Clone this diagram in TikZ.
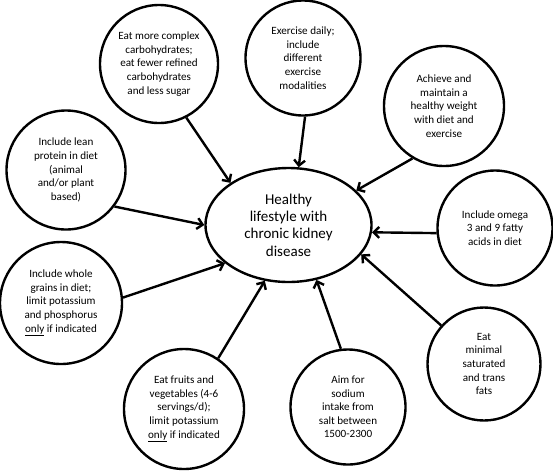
\documentclass[tikz,border=0pt]{standalone}
\usepackage{fontspec}
\setmainfont{Carlito}
\usetikzlibrary{shapes.geometric,arrows.meta}
\tikzset{
  sat/.style={circle,draw,line width=2.4pt,inner sep=0pt,align=center,
    font=\fontsize{11.1}{13.6}\selectfont},
  hubstyle/.style={ellipse,draw,line width=2.4pt,inner sep=0pt,align=center,
    minimum width=166pt,minimum height=114pt,font=\fontsize{15}{17.4}\selectfont},
  arr/.style={line width=2.4pt,-{Straight Barb[length=5.5pt,width=11pt]}}
}
\begin{document}
\begin{tikzpicture}[x=1pt,y=-1pt]
\useasboundingbox (0,0) rectangle (553,472);
\node[hubstyle] (hub) at (288.5,225) {Healthy\\lifestyle with\\chronic kidney\\disease};
\node[sat,minimum size=118pt] (c1) at (159,64) {Eat more complex\\carbohydrates;\\eat fewer refined\\carbohydrates\\and less sugar};
\node[sat,minimum size=115pt] (c2) at (303,58) {Exercise daily;\\include\\different\\exercise\\modalities};
\node[sat,minimum size=120pt] (c3) at (444,106) {Achieve and\\maintain a\\healthy weight\\with diet and\\exercise};
\node[sat,minimum size=119pt] (c4) at (66,170) {Include lean\\protein in diet\\(animal\\and/or plant\\based)};
\node[sat,minimum size=115pt] (c5) at (495,228) {Include omega\\3 and 9 fatty\\acids in diet};
\node[sat,minimum size=122pt] (c6) at (61,303) {Include whole\\grains in diet;\\limit potassium\\and phosphorus\\\underline{only} if indicated};
\node[sat,minimum size=120pt] (c7) at (184,409) {Eat fruits and\\vegetables (4-6\\servings/d);\\limit potassium\\\underline{only} if indicated};
\node[sat,minimum size=115pt] (c8) at (348,407) {Aim for\\sodium\\intake from\\salt between\\1500-2300};
\node[sat,minimum size=113pt] (c9) at (484,364) {Eat\\minimal\\saturated\\and trans\\fats};
\draw[arr] (c1.-63.4) -- (hub.144.3);
\draw[arr] (c2.-88) -- (hub.80.5);
\draw[arr] (c3.-121.6) -- (hub.27.1);
\draw[arr] (c4.-37.5) -- (hub.180);
\draw[arr] (c5.185) -- (hub.-5.6);
\draw[arr] (c6.5.6) -- (hub.211.4);
\draw[arr] (c7.56.8) -- (hub.-113.7);
\draw[arr] (c8.97.7) -- (hub.-63.8);
\draw[arr] (c9.138.6) -- (hub.-22.2);
\end{tikzpicture}
\end{document}
